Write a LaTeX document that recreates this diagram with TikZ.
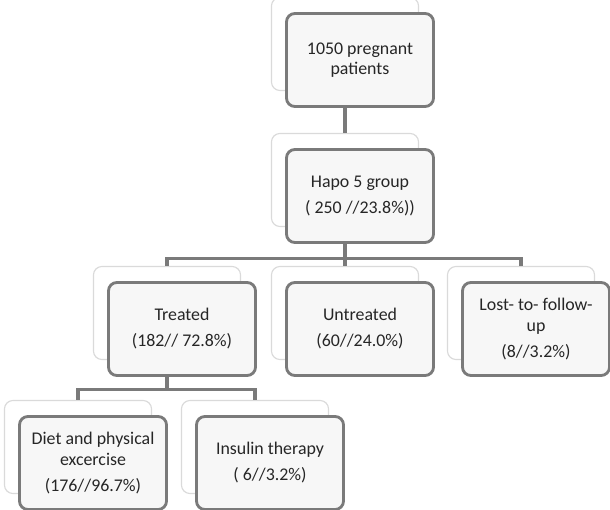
\documentclass[tikz,border=0pt]{standalone}
\usepackage{fontspec}
\setmainfont{Carlito}
\usepackage{xcolor}
\usetikzlibrary{positioning}
\definecolor{boxline}{HTML}{7A7A7A}
\definecolor{boxfill}{HTML}{F7F7F7}
\definecolor{shadeline}{HTML}{DADADA}
\definecolor{boxtext}{HTML}{262626}
\tikzset{
	backbox/.style={
			draw=shadeline, line width=0.8pt, fill=white, rounded corners=6pt,
			minimum width=3.675cm, minimum height=2.325cm
		},
	frontbox/.style={
			draw=boxline, line width=2pt, fill=boxfill, rounded corners=6pt,
			minimum width=3.675cm, minimum height=2.325cm, inner sep=2pt,
			align=center, text=boxtext, font=\fontsize{12.7}{14.5}\selectfont
		},
	conn/.style={draw=boxline, line width=2.2pt}
}

\begin{document}
\begin{tikzpicture}[x=0.025cm, y=-0.025cm]
\useasboundingbox (0,0) rectangle (610,510);
% Shadow boxes
\foreach \n/\x/\y in {topB/345/44, hapoB/345/180, treatB/167/313, untreatB/345/313, lostB/521/313, dietB/78/447, insB/255/447} {
\node[backbox] (\n) at (\x, \y) {};
}
% Connectors
\draw[conn] (topB.south) -- (hapoB.north);
\draw[conn] (hapoB.south) -- ++(0, 31) coordinate (split1);
\draw[conn] (split1) -| (treatB.north);
\draw[conn] (split1) -| (lostB.north);
\draw[conn] (split1) -- (untreatB.north);
\draw[conn] (treatB.south) -- ++(0, 29) coordinate (split2);
\draw[conn] (split2) -| (dietB.north);
\draw[conn] (split2) -| (insB.north);
% Boxes
\node[frontbox] (top) at ([xshift=0.375cm, yshift=-0.4cm]topB) {1050 pregnant\\patients};
\node[frontbox] (hapo) at ([xshift=0.375cm, yshift=-0.4cm]hapoB) {Hapo 5 group\\[4pt]( 250 //23.8\%))};
\node[frontbox] (treat) at ([xshift=0.375cm, yshift=-0.4cm]treatB) {Treated\\[4pt](182// 72.8\%)};
\node[frontbox] (untreat) at ([xshift=0.375cm, yshift=-0.4cm]untreatB) {Untreated\\[4pt](60//24.0\%)};
\node[frontbox] (lost) at ([xshift=0.375cm, yshift=-0.4cm]lostB) {Lost- to- follow-\\up\\[4pt](8//3.2\%)};
\node[frontbox] (diet) at ([xshift=0.375cm, yshift=-0.4cm]dietB) {Diet and physical\\excercise\\[4pt](176//96.7\%)};
\node[frontbox] (ins) at ([xshift=0.375cm, yshift=-0.4cm]insB) {Insulin therapy\\[4pt]( 6//3.2\%)};
\end{tikzpicture}
\end{document}
